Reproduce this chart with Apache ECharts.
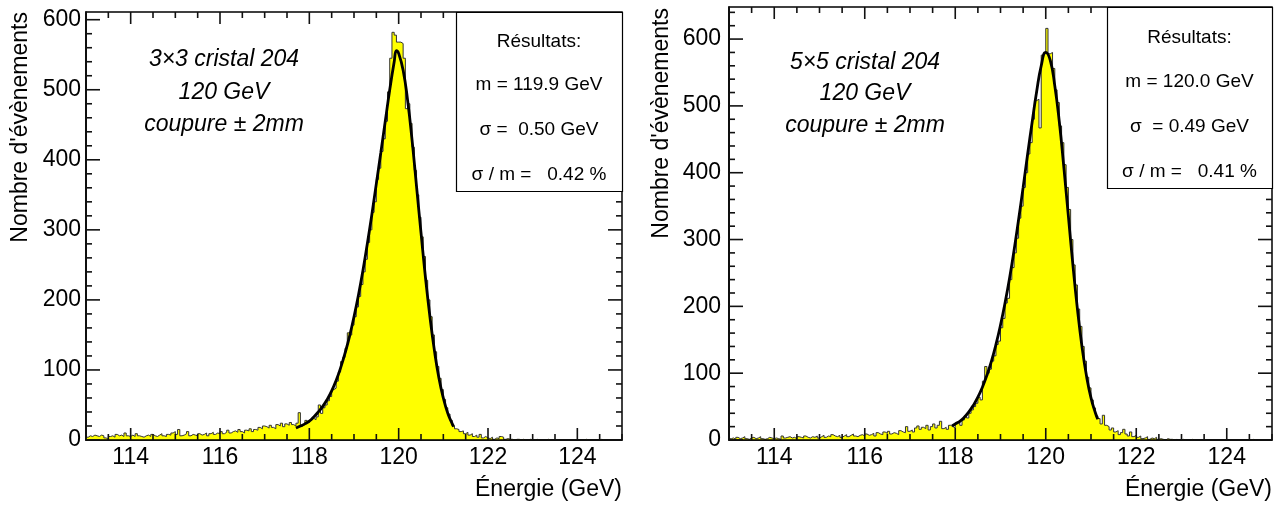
<!DOCTYPE html>
<html>
<head>
<meta charset="utf-8">
<script src="https://cdn.jsdelivr.net/npm/echarts@6.0.0/dist/echarts.min.js"></script>
<style>
  html, body { margin: 0; padding: 0; background: #fff; }
  #chart { width: 1281px; height: 507px; }
</style>
</head>
<body>
<div id="chart"></div>
<script>
// binning des histogrammes (GeV)
const binStart = 113
const binWidth = 0.05

// 3x3 cristal 204, 120 GeV
const counts3x3 = [
  4, 6, 5, 7, 6, 5, 7, 6, 3, 1, 5, 6, 4, 8, 6, 7, 5, 10, 6, 5,
  7, 5, 9, 6, 5, 4, 6, 7, 5, 8, 6, 5, 7, 9, 6, 5, 8, 7, 10, 12,
  8, 15, 6, 7, 9, 12, 6, 8, 7, 6, 9, 7, 8, 10, 6, 9, 11, 8, 10, 9,
  12, 9, 11, 14, 10, 12, 13, 11, 15, 12, 10, 14, 13, 16, 12, 15, 14, 18, 16, 20,
  19, 17, 21, 18, 16, 22, 20, 24, 19, 23, 21, 25, 22, 20, 24, 39, 20, 22, 28, 25,
  28, 31, 29, 33, 50, 38, 46, 50, 56, 62, 72, 74, 84, 97, 112, 118, 131, 153, 150, 164,
  176, 190, 205, 222, 240, 258, 282, 300, 325, 340, 372, 388, 412, 430, 455, 497, 545, 582, 578, 568,
  568, 566, 545, 473, 480, 452, 418, 385, 350, 318, 290, 262, 228, 200, 176, 150, 126, 105, 88, 72,
  58, 46, 37, 28, 20, 16, 15, 12, 13, 9, 11, 7, 9, 5, 7, 4, 8, 3, 5, 3,
  2, 4, 1, 3, 2, 5, 4, 1, 2, 1, 1, 0, 1, 1, 0, 1, 0, 0, 1, 0,
  0, 1, 0, 0, 0, 0, 1, 0, 0, 0, 0, 0, 0, 0, 0, 0, 0, 0, 0, 0,
  0, 0, 0, 1, 0, 0, 0, 0, 0, 0, 1, 0, 0, 0, 0, 0, 0, 0, 0, 0
]
const fitE3x3 = [117.7, 117.8, 117.9, 118.0, 118.1, 118.2, 118.3, 118.4, 118.5, 118.6,
  118.7, 118.8, 118.9, 119.0, 119.1, 119.2, 119.3, 119.4, 119.5, 119.6,
  119.7, 119.8, 119.9, 119.95, 120.0, 120.1, 120.2, 120.3, 120.4, 120.5,
  120.6, 120.7, 120.8, 120.9, 121.0, 121.1, 121.2, 121.23]
const fitV3x3 = [17, 20, 23, 27, 33, 40, 48, 58, 70, 85,
  103, 124, 148, 176, 207, 242, 281, 322, 366, 410,
  455, 500, 540, 556, 552, 528, 485, 428, 362, 296,
  232, 176, 128, 89, 60, 38, 23, 19]

// 5x5 cristal 204, 120 GeV
const counts5x5 = [
  2, 3, 1, 4, 2, 3, 5, 2, 1, 3, 4, 2, 3, 5, 2, 1, 2, 4, 3, 2,
  3, 2, 1, 6, 3, 4, 5, 3, 4, 2, 5, 4, 3, 6, 4, 3, 5, 4, 6, 3,
  5, 7, 4, 6, 5, 8, 6, 5, 7, 4, 6, 8, 5, 7, 9, 6, 5, 7, 8, 6,
  9, 7, 8, 10, 6, 11, 9, 8, 12, 10, 13, 9, 11, 10, 8, 14, 12, 11, 20, 13,
  15, 12, 18, 21, 16, 19, 17, 22, 15, 20, 24, 18, 22, 28, 17, 19, 16, 22, 20, 18,
  24, 27, 22, 30, 36, 33, 40, 45, 50, 55, 64, 60, 88, 110, 100, 106, 118, 126, 143, 148,
  168, 182, 205, 212, 240, 258, 280, 302, 332, 350, 378, 400, 428, 445, 480, 508, 510, 467, 576, 579,
  616, 578, 580, 556, 524, 505, 470, 445, 412, 378, 345, 300, 262, 232, 196, 170, 140, 118, 94, 78,
  60, 48, 36, 32, 24, 37, 22, 20, 15, 18, 12, 14, 8, 11, 16, 9, 6, 12, 5, 7,
  4, 6, 2, 3, 5, 1, 3, 2, 4, 1, 2, 1, 0, 2, 1, 1, 0, 1, 0, 0,
  1, 0, 0, 0, 1, 0, 0, 0, 0, 0, 0, 0, 0, 0, 0, 0, 0, 0, 0, 0,
  0, 0, 0, 0, 0, 0, 0, 0, 0, 0, 0, 1, 0, 0, 0, 0, 0, 0, 0, 0
]
const fitE5x5 = [117.93, 118.0, 118.1, 118.2, 118.3, 118.4, 118.5, 118.6, 118.7, 118.8,
  118.9, 119.0, 119.1, 119.2, 119.3, 119.4, 119.5, 119.6, 119.7, 119.8,
  119.9, 120.0, 120.1, 120.2, 120.3, 120.4, 120.5, 120.6, 120.7, 120.8,
  120.9, 121.0, 121.1, 121.15]
const fitV5x5 = [21, 24, 28, 34, 42, 52, 64, 79, 97, 118,
  143, 172, 205, 242, 284, 330, 378, 428, 476, 522,
  560, 580, 568, 530, 476, 408, 335, 262, 196, 140,
  96, 63, 40, 31]

// graduations
const xMajorTicks = [114, 116, 118, 120, 122, 124]
const xAllTicks = [113, 113.5, 114, 114.5, 115, 115.5, 116, 116.5, 117, 117.5, 118, 118.5,
  119, 119.5, 120, 120.5, 121, 121.5, 122, 122.5, 123, 123.5, 124, 124.5, 125]
const yMajorTicks = [0, 100, 200, 300, 400, 500, 600]
const yAllTicks3x3 = [0, 20, 40, 60, 80, 100, 120, 140, 160, 180, 200, 220, 240, 260, 280, 300,
  320, 340, 360, 380, 400, 420, 440, 460, 480, 500, 520, 540, 560, 580, 600]
const yAllTicks5x5 = [0, 20, 40, 60, 80, 100, 120, 140, 160, 180, 200, 220, 240, 260, 280, 300,
  320, 340, 360, 380, 400, 420, 440, 460, 480, 500, 520, 540, 560, 580, 600, 620, 640]

// textes
const yTitle = "Nombre d'évènements"
const xTitle = 'Énergie (GeV)'
const labels3x3 = ['3×3 cristal 204', '120 GeV', 'coupure ± 2mm']
const labels5x5 = ['5×5 cristal 204', '120 GeV', 'coupure ± 2mm']
const results3x3 = ['Résultats:', 'm = 119.9 GeV', 'σ =  0.50 GeV', 'σ / m =   0.42 %']
const results5x5 = ['Résultats:', 'm = 120.0 GeV', 'σ  = 0.49 GeV', 'σ / m =   0.41 %']

const FONT = "'Liberation Sans', Arial, Helvetica, sans-serif"

const chart = echarts.init(document.getElementById('chart'))

// histogramme -> points d'une ligne en escalier
const toSteps = (counts) => {
  const pts = counts.map((c, i) => [binStart + i * binWidth, c])
  pts.push([binStart + counts.length * binWidth, counts[counts.length - 1]])
  return pts
}
const toPairs = (xs, ys) => xs.map((x, i) => [x, ys[i]])

const panels = [
  {
    grid: { left: 86, top: 12, width: 536, height: 428 },
    yMax: 611, yLabelMargin: 5, yTicks: yAllTicks3x3,
    counts: counts3x3, fit: toPairs(fitE3x3, fitV3x3),
    labels: labels3x3, labelX: 224, labelY: [60, 93, 125],
    results: results3x3, box: { x: 456, y: 12, w: 166, h: 179 }, resY: [41.5, 84.5, 129.5, 174.5],
    yTitleX: 21, yTitleY: 12
  },
  {
    grid: { left: 729, top: 7, width: 543, height: 433 },
    yMax: 648, yLabelMargin: 8, yTicks: yAllTicks5x5,
    counts: counts5x5, fit: toPairs(fitE5x5, fitV5x5),
    labels: labels5x5, labelX: 865, labelY: [63, 94, 126],
    results: results5x5, box: { x: 1107, y: 7, w: 165, h: 181 }, resY: [37.5, 81.5, 126.5, 171.5],
    yTitleX: 662, yTitleY: 8
  }
]

const frame = { color: '#000', width: 1.5 }
const tickLine = (x1, y1, x2, y2) => ({
  type: 'line', shape: { x1, y1, x2, y2 }, style: { stroke: '#111', lineWidth: 1.6 }
})

const xAxis = []
const yAxis = []
const series = []
const graphic = []

panels.forEach((p, g) => {
  xAxis.push({
    gridIndex: g, type: 'value', min: 113, max: 125, z: 5,
    splitLine: { show: false },
    axisLine: { show: true, onZero: false, lineStyle: frame },
    axisTick: { show: false },
    axisLabel: { show: true, customValues: xMajorTicks, margin: 6, color: '#000', fontSize: 23, fontFamily: FONT }
  })
  yAxis.push({
    gridIndex: g, type: 'value', min: 0, max: p.yMax, z: 5,
    splitLine: { show: false },
    axisLine: { show: true, onZero: false, lineStyle: frame },
    axisTick: { show: false },
    axisLabel: { show: true, customValues: yMajorTicks, margin: p.yLabelMargin, color: '#000', fontSize: 23, fontFamily: FONT }
  })

  series.push(
    {
      type: 'line', xAxisIndex: g, yAxisIndex: g,
      data: toSteps(p.counts), step: 'end', showSymbol: false, z: 2,
      lineStyle: { color: '#333', width: 1 },
      areaStyle: { color: '#ffff00', opacity: 1 }
    },
    {
      type: 'line', xAxisIndex: g, yAxisIndex: g,
      data: p.fit, smooth: true, showSymbol: false, z: 3,
      lineStyle: { color: '#000', width: 2.8 }
    },
    // graduations en x, en bas et en haut du cadre
    {
      type: 'custom', xAxisIndex: g, yAxisIndex: g, z: 6, silent: true,
      data: xAllTicks.map(v => [v, 0]),
      renderItem: (params, api) => {
        const v = api.value(0)
        const len = xMajorTicks.includes(v) ? 12 : 6
        const b = api.coord([v, 0])
        const t = api.coord([v, p.yMax])
        return { type: 'group', children: [tickLine(b[0], b[1], b[0], b[1] - len), tickLine(t[0], t[1], t[0], t[1] + len)] }
      }
    },
    // graduations en y, à gauche et à droite du cadre
    {
      type: 'custom', xAxisIndex: g, yAxisIndex: g, z: 6, silent: true,
      data: p.yTicks.map(v => [113, v]),
      renderItem: (params, api) => {
        const v = api.value(1)
        const len = yMajorTicks.includes(v) ? 14 : 6
        const l = api.coord([113, v])
        const r = api.coord([125, v])
        return { type: 'group', children: [tickLine(l[0], l[1], l[0] + len, l[1]), tickLine(r[0], r[1], r[0] - len, r[1])] }
      }
    }
  )

  const right = p.grid.left + p.grid.width
  // titre axe y (vertical, aligné en haut)
  graphic.push({
    type: 'text', x: p.yTitleX, y: p.yTitleY, rotation: Math.PI / 2, z: 20,
    style: { text: yTitle, font: '23px ' + FONT, fill: '#000', align: 'right', verticalAlign: 'middle' }
  })
  // titre axe x
  graphic.push({
    type: 'text', x: right, y: 490, z: 20,
    style: { text: xTitle, font: '23px ' + FONT, fill: '#000', align: 'right', verticalAlign: 'middle' }
  })
  // annotation
  p.labels.forEach((t, i) => {
    graphic.push({
      type: 'text', x: p.labelX, y: p.labelY[i], z: 20,
      style: { text: t, font: 'italic 23px ' + FONT, fill: '#000', align: 'center', verticalAlign: 'middle' }
    })
  })
  // boite resultats
  graphic.push({
    type: 'rect', z: 15,
    shape: { x: p.box.x + 0.5, y: p.box.y + 0.5, width: p.box.w, height: p.box.h },
    style: { fill: '#fff', stroke: '#000', lineWidth: 1.2 }
  })
  p.results.forEach((t, i) => {
    graphic.push({
      type: 'text', x: p.box.x + p.box.w / 2, y: p.resY[i], z: 20,
      style: { text: t, font: '19px ' + FONT, fill: '#000', align: 'center', verticalAlign: 'middle' }
    })
  })
})

chart.setOption({
  animation: false,
  backgroundColor: '#fff',
  grid: panels.map(p => ({ ...p.grid, show: true, borderColor: '#000', borderWidth: 1.5, outerBoundsMode: 'none' })),
  xAxis,
  yAxis,
  series,
  graphic: { elements: graphic }
})
</script>
</body>
</html>
